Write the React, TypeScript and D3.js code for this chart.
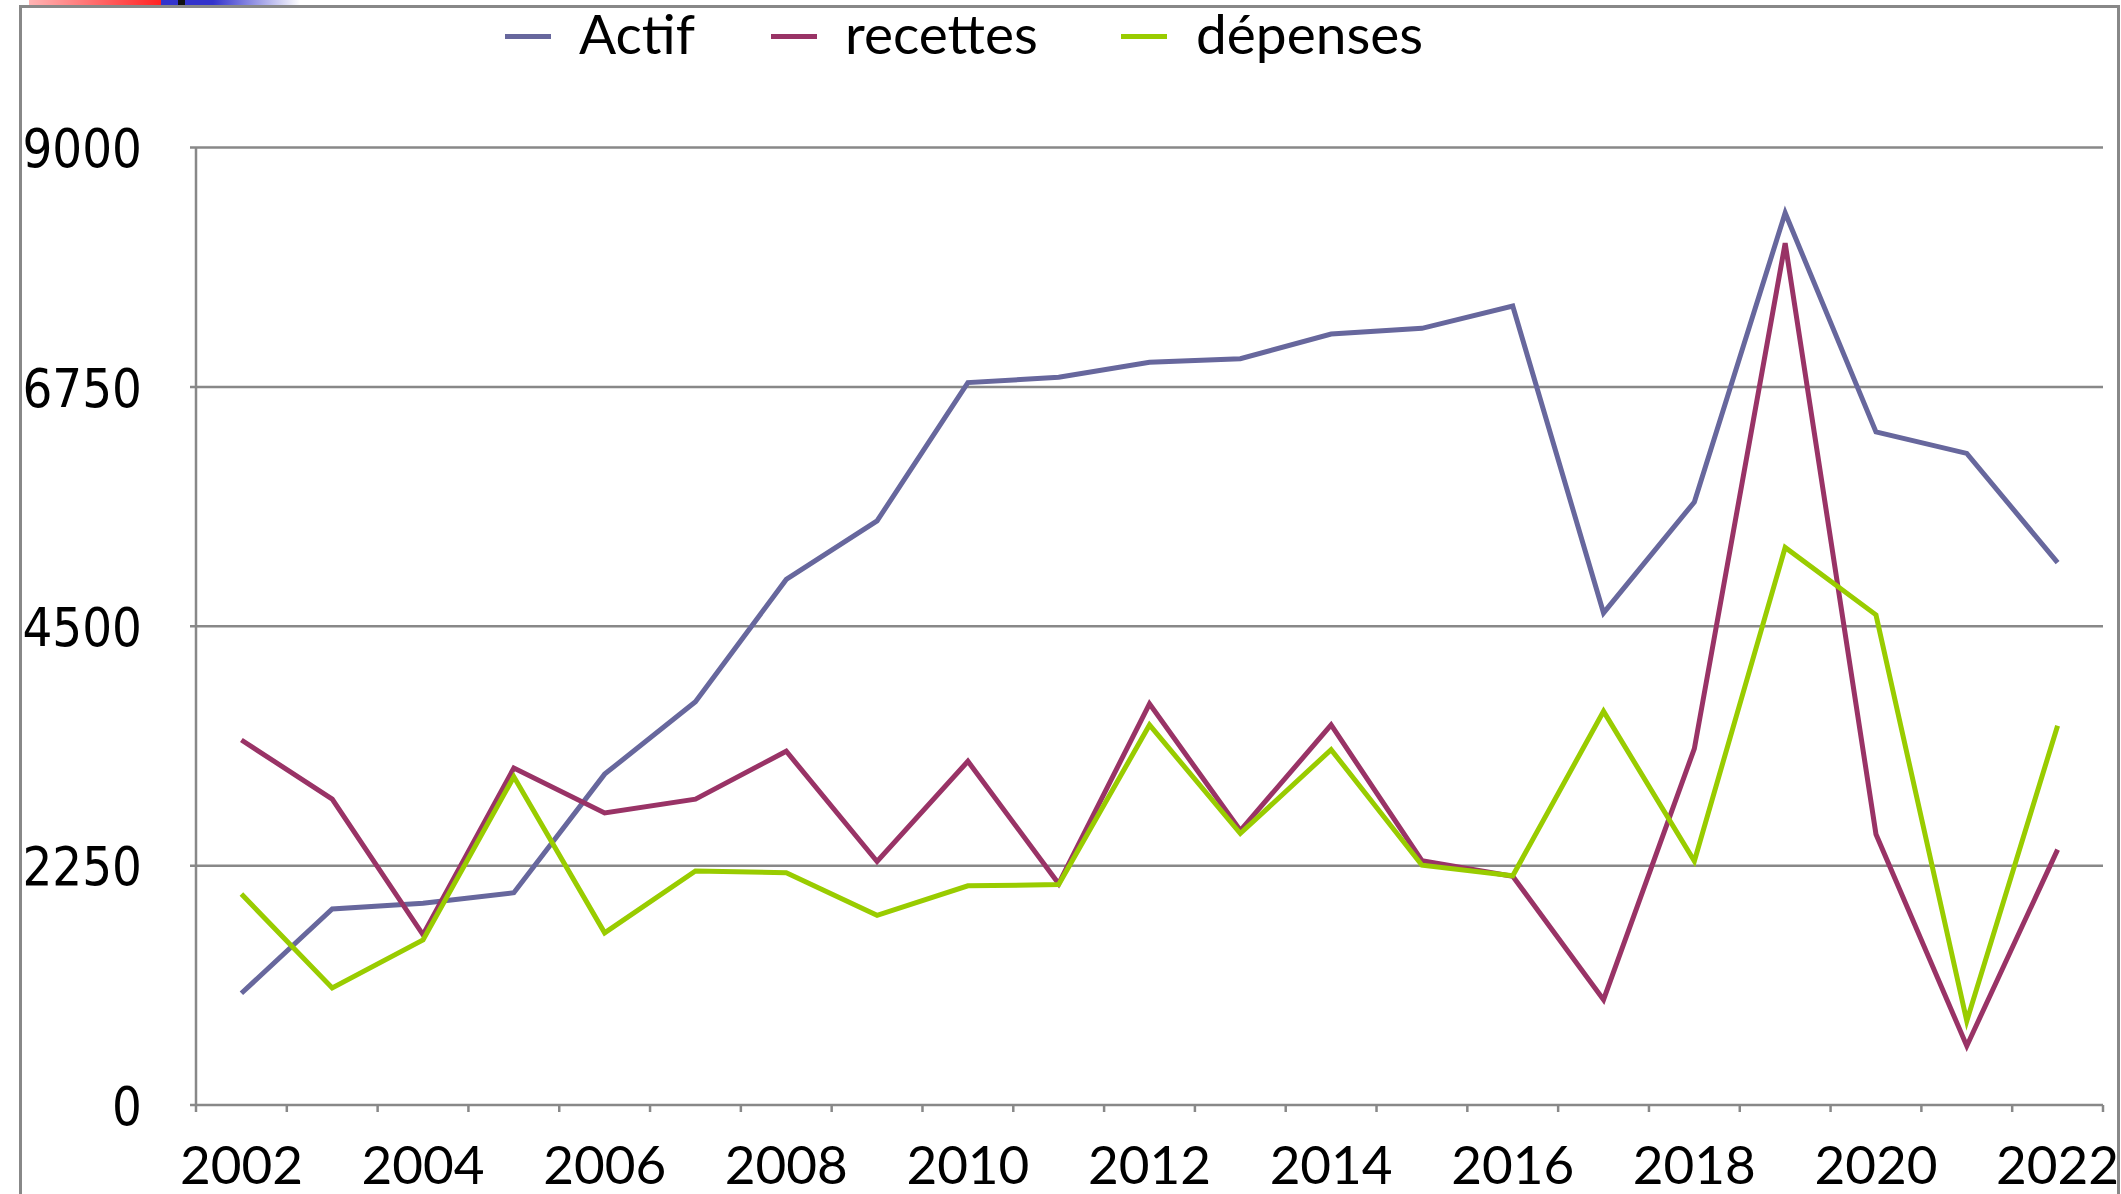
import React from 'react';
import * as d3 from 'd3';

const years = d3.range(2002, 2023).map(String);
const tickLabelYears = ['2002', '2004', '2006', '2008', '2010', '2012', '2014', '2016', '2018', '2020', '2022'];
const yTicks = [0, 2250, 4500, 6750, 9000];

const actif = [1050, 1842, 1897, 1995, 3110, 3790, 4940, 5490, 6790, 6840, 6982, 7015, 7247, 7300, 7510, 4625, 5668, 8385, 6326, 6125, 5098];
const recettes = [3431, 2875, 1600, 3167, 2745, 2875, 3325, 2289, 3231, 2080, 3771, 2580, 3572, 2297, 2150, 990, 3350, 8100, 2545, 555, 2400];
const depenses = [1983, 1100, 1551, 3085, 1618, 2200, 2184, 1783, 2060, 2072, 3572, 2552, 3340, 2254, 2155, 3700, 2292, 5240, 4607, 790, 3565];

const seriesNames = ['Actif', 'recettes', 'dépenses'];
const seriesColors = ['#67679d', '#993366', '#99cc00'];

const W = 2121;
const H = 1194;
const plot = { left: 196, right: 2103, top: 147.5, bottom: 1105 };
const grey = '#888888';
const labelFont = 'Lato, "Liberation Sans", sans-serif';

const App = () => {
  const x = d3.scaleBand().domain(years).range([plot.left, plot.right]).padding(0);
  const y = d3.scaleLinear().domain([0, 9000]).range([plot.bottom, plot.top]);
  const cx = (yr) => x(yr) + x.bandwidth() / 2;

  const line = d3.line<number>()
    .x((_, i) => cx(years[i]))
    .y((d) => y(d));

  const allSeries = [actif, recettes, depenses];

  // legend layout (line start, text start)
  const legendItems = [
    { lx: 505, tx: 579 },
    { lx: 771, tx: 845 },
    { lx: 1121, tx: 1196 },
  ];

  return (
    <svg width={W} height={H} style={{ position: 'absolute', left: 0, top: 0, background: '#fff' }}>
      <defs>
        <linearGradient id="redFade" x1="0" x2="1" y1="0" y2="0">
          <stop offset="0%" stopColor="#ffb4b4" />
          <stop offset="100%" stopColor="#ff2222" />
        </linearGradient>
        <linearGradient id="blueFade" x1="0" x2="1" y1="0" y2="0">
          <stop offset="0%" stopColor="#3333cc" />
          <stop offset="100%" stopColor="#ffffff" />
        </linearGradient>
      </defs>

      {/* top decorative strip */}
      <rect x={29} y={0} width={132} height={5} fill="url(#redFade)" />
      <rect x={161} y={0} width={52} height={5} fill="#3333cc" />
      <rect x={178} y={0} width={7} height={5} fill="#111" />
      <rect x={213} y={0} width={87} height={5} fill="url(#blueFade)" />

      {/* outer border */}
      <rect x={20.5} y={6.5} width={2098} height={1230} fill="none" stroke={grey} strokeWidth={3} />

      {/* gridlines */}
      {yTicks.filter((t) => t > 0).map((t) => (
        <line key={t} x1={plot.left - 6} x2={plot.right} y1={y(t)} y2={y(t)} stroke={grey} strokeWidth={2.5} />
      ))}

      {/* axes */}
      <line x1={plot.left} x2={plot.left} y1={plot.top} y2={plot.bottom} stroke={grey} strokeWidth={2.5} />
      <line x1={plot.left - 6} x2={plot.right} y1={plot.bottom} y2={plot.bottom} stroke={grey} strokeWidth={2.5} />
      {years.map((yr) => (
        <line key={yr} x1={x(yr)} x2={x(yr)} y1={plot.bottom} y2={plot.bottom + 7} stroke={grey} strokeWidth={2.5} />
      ))}
      <line x1={plot.right} x2={plot.right} y1={plot.bottom} y2={plot.bottom + 7} stroke={grey} strokeWidth={2.5} />

      {/* y labels */}
      {yTicks.map((t) => (
        <text
          key={t}
          transform={`translate(142, ${y(t)}) scale(1, 1.15)`}
          dy="0.365em"
          textAnchor="end"
          fontFamily='"DejaVu Sans", sans-serif'
          fontSize={47}
          fill="#000"
        >
          {t}
        </text>
      ))}

      {/* x labels */}
      {tickLabelYears.map((yr) => (
        <text
          key={yr}
          x={cx(yr)}
          y={1184}
          textAnchor="middle"
          fontFamily={labelFont}
          fontSize={53}
          fill="#000"
        >
          {yr}
        </text>
      ))}

      {/* series */}
      {allSeries.map((s, i) => (
        <path
          key={seriesNames[i]}
          d={line(s)}
          fill="none"
          stroke={seriesColors[i]}
          strokeWidth={5}
          strokeLinejoin="miter"
        />
      ))}

      {/* legend */}
      {seriesNames.map((name, i) => (
        <g key={name}>
          <line
            x1={legendItems[i].lx}
            x2={legendItems[i].lx + 46}
            y1={36.5}
            y2={36.5}
            stroke={seriesColors[i]}
            strokeWidth={5}
          />
          <text x={legendItems[i].tx} y={54} fontFamily={labelFont} fontSize={55} fill="#000">
            {name}
          </text>
        </g>
      ))}
    </svg>
  );
};

export default App;
